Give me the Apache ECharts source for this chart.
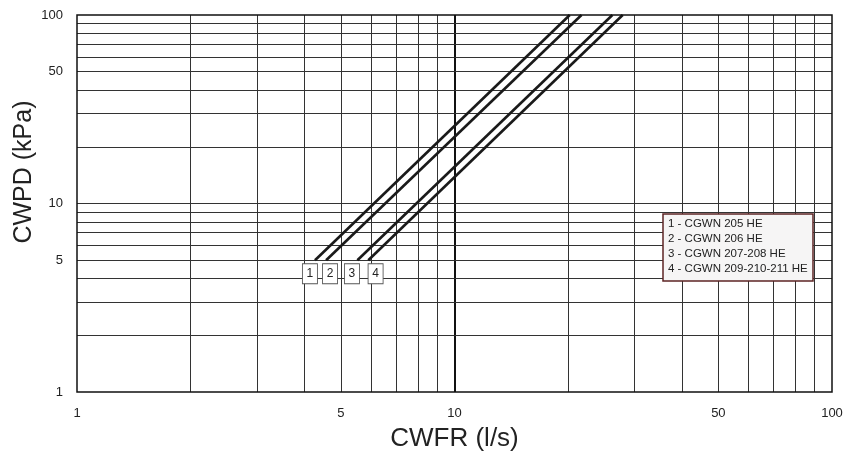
<!DOCTYPE html>
<html>
<head>
<meta charset="utf-8">
<script src="https://cdn.jsdelivr.net/npm/echarts@6/dist/echarts.min.js"></script>
<style>
html,body{margin:0;padding:0;background:#fff;}
#chart{width:856px;height:461px;}
</style>
</head>
<body>
<div id="chart"></div>
<script>
// ---- data ----
const seriesNames = ['1 - CGWN 205 HE', '2 - CGWN 206 HE', '3 - CGWN 207-208 HE', '4 - CGWN 209-210-211 HE'];
const cwpdEnds = [5, 100];              // kPa at the two ends of each line
const cwfr1 = [4.27, 20.2];             // l/s
const cwfr2 = [4.57, 21.7];
const cwfr3 = [5.53, 26.2];
const cwfr4 = [5.91, 27.9];
const boxLabels = ['1', '2', '3', '4'];
const boxCwfr = [4.14, 4.68, 5.35, 6.18];
const boxCwpd = [4.24, 4.24, 4.24, 4.24];
const xTicks = [1, 5, 10, 50, 100];
const yTicks = [1, 5, 10, 50, 100];
const xGrid = [2, 3, 4, 5, 6, 7, 8, 9, 10, 20, 30, 40, 50, 60, 70, 80, 90];
const yGrid = [2, 3, 4, 5, 6, 7, 8, 9, 10, 20, 30, 40, 50, 60, 70, 80, 90];
const xTitle = 'CWFR (l/s)';
const yTitle = 'CWPD (kPa)';

const flows = [cwfr1, cwfr2, cwfr3, cwfr4];
const chart = echarts.init(document.getElementById('chart'), null, {renderer: 'canvas'});

const gridMarks = [];
xGrid.forEach(v => gridMarks.push({xAxis: v, lineStyle: v === 10 ? {width: 2, color: '#111'} : {}}));
yGrid.forEach(v => gridMarks.push({yAxis: v}));

const lineSeries = flows.map((f, i) => ({
  name: seriesNames[i],
  type: 'line',
  data: f.map((x, j) => [x, cwpdEnds[j]]),
  symbol: 'none',
  lineStyle: {color: '#1a1a1a', width: 2.6},
  z: 5,
  silent: true
}));

const tickFont = {fontSize: 13, color: '#222', fontFamily: 'Liberation Sans, Arial, sans-serif'};
const FONT = '"Liberation Sans", Arial, sans-serif';

const option = {
  animation: false,
  grid: {left: 77, right: 24, top: 15, bottom: 69, show: true, borderColor: '#111', borderWidth: 1.5, backgroundColor: 'transparent', z: 10},
  xAxis: {
    type: 'log', logBase: 10, min: 1, max: 100,
    axisLine: {show: false}, axisTick: {show: false}, splitLine: {show: false},
    axisLabel: Object.assign({customValues: xTicks, margin: 15}, tickFont),
    name: xTitle, nameLocation: 'middle', nameGap: 34,
    nameTextStyle: {fontSize: 26, color: '#222', fontFamily: 'Liberation Sans, Arial, sans-serif'}
  },
  yAxis: {
    type: 'log', logBase: 10, min: 1, max: 100,
    axisLine: {show: false}, axisTick: {show: false}, splitLine: {show: false},
    axisLabel: Object.assign({customValues: yTicks, margin: 14}, tickFont)
  },
  graphic: [
    {
      type: 'text', x: 24, y: 172, rotation: Math.PI / 2, z: 100,
      style: {text: yTitle, align: 'center', verticalAlign: 'middle', fill: '#222', font: '25px ' + FONT}
    },
    {type: 'rect', x: 663, y: 214, z: 100, shape: {x: 0, y: 0, width: 150, height: 67},
     style: {fill: '#f6f5f5', stroke: '#5e2424', lineWidth: 1.5}}
  ].concat(seriesNames.map((n, i) => ({
    type: 'text', x: 668, y: 223.5 + i * 15, z: 101,
    style: {text: n, align: 'left', verticalAlign: 'middle', fill: '#222', font: '11.5px ' + FONT}
  }))),
  series: [
    {
      type: 'line', data: [], silent: true, z: 1,
      markLine: {
        silent: true, symbol: ['none', 'none'], label: {show: false}, animation: false,
        lineStyle: {color: '#333', width: 1, type: 'solid'},
        data: gridMarks
      }
    }
  ].concat(lineSeries).concat([
    {
      type: 'scatter', silent: true, z: 8, clip: false,
      data: boxLabels.map((b, i) => ({name: b, value: [boxCwfr[i], boxCwpd[i]]})),
      symbol: 'rect', symbolSize: [15, 20],
      itemStyle: {color: '#fff', borderColor: '#555', borderWidth: 1, opacity: 1},
      label: {show: true, position: 'inside', formatter: p => p.name, fontSize: 12, color: '#222', fontFamily: 'Liberation Sans, Arial, sans-serif'}
    }
  ])
};
chart.setOption(option);
</script>
</body>
</html>
